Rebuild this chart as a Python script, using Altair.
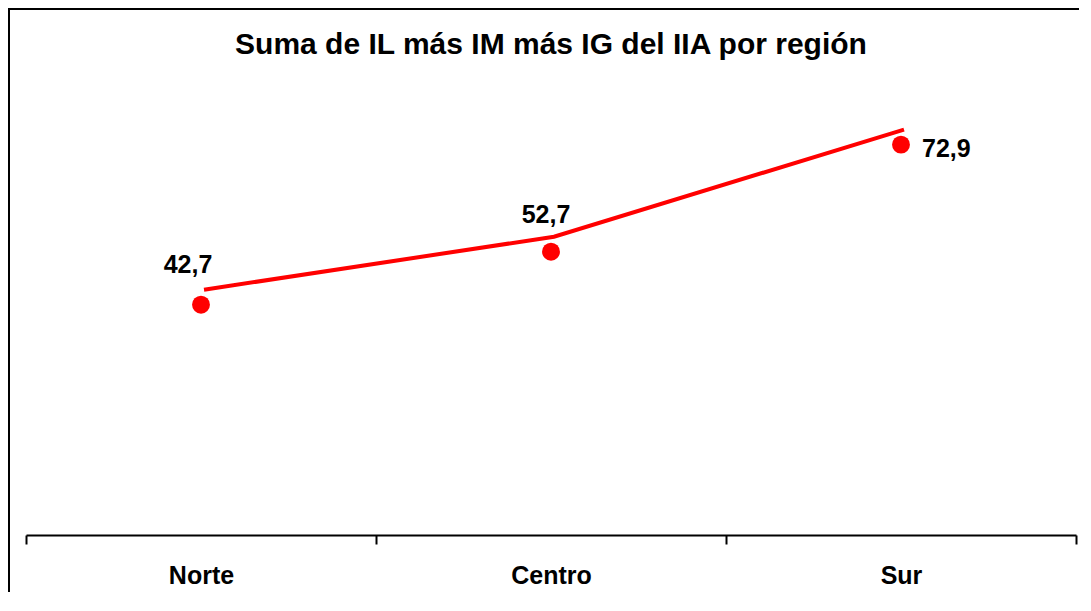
import altair as alt
import pandas as pd

regions = ["Norte", "Centro", "Sur"]
values = [42.7, 52.7, 72.9]
labels = [f"{v:.1f}".replace(".", ",") for v in values]

df = pd.DataFrame({"region": regions, "valor": values, "etiqueta": labels})

FONT = "Liberation Sans"
RED = "#ff0000"

x_enc = alt.X(
    "region:N",
    sort=regions,
    scale=alt.Scale(type="band", paddingInner=0, paddingOuter=0),
    axis=alt.Axis(
        title=None,
        orient="bottom",
        offset=4,
        domainColor="#000000",
        domainWidth=2,
        tickColor="#000000",
        tickWidth=2,
        tickSize=9,
        tickBand="extent",
        labelAngle=0,
        labelFont=FONT,
        labelFontSize=25,
        labelFontWeight="bold",
        labelColor="#000000",
        labelBaseline="alphabetic",
        labelPadding=39,
        grid=False,
    ),
)
y_enc = alt.Y("valor:Q", scale=alt.Scale(domain=[0, 80], nice=False, zero=True), axis=None)

base = alt.Chart(df)
one = base.transform_filter(alt.datum.region == "Norte")

frame_left = one.mark_rule(color="#000000", strokeWidth=2).encode(
    x=alt.value(-17), y=alt.value(-98), y2=alt.value(485)
)
frame_top = one.mark_rule(color="#000000", strokeWidth=2).encode(
    x=alt.value(-18), x2=alt.value(1057), y=alt.value(-98)
)

line = base.mark_line(color=RED, strokeWidth=4, xOffset=3, yOffset=-15).encode(
    x=x_enc, y=y_enc
)
points = base.mark_point(filled=True, color=RED, size=320, opacity=1, shape="circle").encode(
    x=x_enc, y=y_enc
)

def lab(region, **kw):
    return base.transform_filter(alt.datum.region == region).mark_text(
        font=FONT, fontSize=25, fontWeight="bold", color="#000000",
        baseline="alphabetic", **kw
    ).encode(x=x_enc, y=y_enc, text="etiqueta:N")

t1 = lab("Norte", align="center", dx=-13, dy=-32)
t2 = lab("Centro", align="center", dx=-5, dy=-29)
t3 = lab("Sur", align="left", dx=21, dy=12)

chart = alt.layer(frame_left, frame_top, line, points, t1, t2, t3).properties(
    width=1050,
    height=424,
    autosize=alt.AutoSizeParams(type="none"),
    padding={"left": 18, "top": 99, "right": 3, "bottom": 61},
    title=alt.TitleParams(
        "Suma de IL más IM más IG del IIA por región",
        font=FONT, fontSize=30, fontWeight="bold", color="#000000",
        anchor="middle", baseline="alphabetic", offset=0, dy=76,
    ),
).configure(background="#ffffff").configure_view(stroke=None, strokeWidth=0)

chart.save("out.html", embed_options={"renderer": "svg", "actions": False})
